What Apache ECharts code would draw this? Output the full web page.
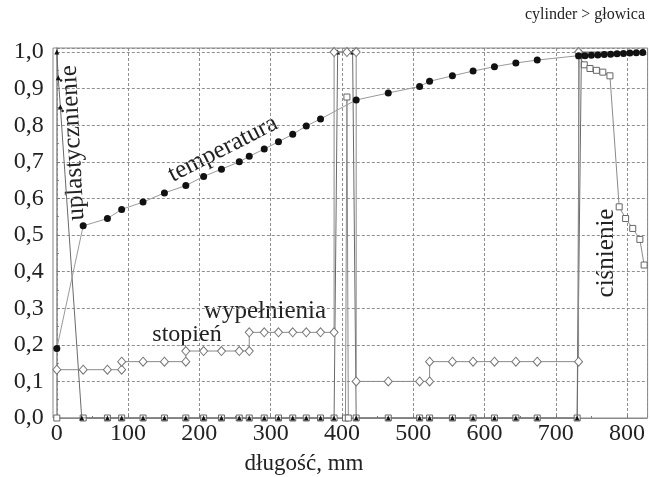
<!DOCTYPE html>
<html><head><meta charset="utf-8">
<script src="https://cdn.jsdelivr.net/npm/echarts@6/dist/echarts.min.js"></script>
<style>html,body{margin:0;padding:0;background:#fff}#c{width:650px;height:477px}</style>
</head><body><div id="c"></div>
<script>
// ---- data (x in mm, y normalised 0..1) ----
const stopienX = [0, 37, 71, 91, 91, 121, 151, 181, 181, 206, 231, 256, 270, 270, 291, 311, 331, 350, 370, 389, 389, 407, 420, 420, 465, 509, 523, 523, 555, 584, 614, 644, 674, 732, 732];
const stopienY = [0.132, 0.132, 0.132, 0.132, 0.154, 0.154, 0.154, 0.154, 0.183, 0.183, 0.183, 0.183, 0.183, 0.234, 0.234, 0.234, 0.234, 0.234, 0.234, 0.234, 1.0, 1.0, 1.0, 0.10, 0.10, 0.10, 0.10, 0.154, 0.154, 0.154, 0.154, 0.154, 0.154, 0.154, 1.0];

const tempX = [0, 37, 71, 91, 121, 151, 181, 206, 231, 256, 270, 291, 311, 331, 350, 370, 420, 465, 509, 523, 555, 584, 614, 644, 674, 732, 741, 750, 759, 768, 777, 786, 795, 804, 813, 822];
const tempY = [0.19, 0.525, 0.545, 0.57, 0.59, 0.615, 0.635, 0.66, 0.68, 0.70, 0.715, 0.735, 0.755, 0.775, 0.798, 0.817, 0.869, 0.888, 0.906, 0.92, 0.935, 0.948, 0.96, 0.97, 0.978, 0.99, 0.99, 0.991, 0.992, 0.993, 0.994, 0.995, 0.996, 0.997, 0.998, 0.999];

const cisnX = [0, 37, 71, 91, 121, 151, 181, 206, 231, 256, 270, 291, 311, 331, 350, 370, 389, 405, 407, 409, 420, 465, 509, 523, 555, 584, 614, 644, 674, 730, 733, 740, 748, 757, 766, 776, 789, 798, 808, 818, 824];
const cisnY = [0, 0, 0, 0, 0, 0, 0, 0, 0, 0, 0, 0, 0, 0, 0, 0, 0, 0, 0.877, 0, 0, 0, 0, 0, 0, 0, 0, 0, 0, 0, 0.99, 0.965, 0.955, 0.95, 0.945, 0.935, 0.577, 0.545, 0.518, 0.488, 0.418];

const uplX = [0, 2, 5, 35, 71, 91, 121, 151, 181, 206, 231, 256, 270, 291, 311, 331, 350, 370, 389, 394, 415, 420, 465, 509, 523, 555, 584, 614, 644, 674, 730, 736, 824];
const uplY = [1.0, 0.93, 0.85, 0, 0, 0, 0, 0, 0, 0, 0, 0, 0, 0, 0, 0, 0, 0, 0, 1.0, 1.0, 0, 0, 0, 0, 0, 0, 0, 0, 0, 0, 1.0, 1.0];

const xTickLabels = [0, 100, 200, 300, 400, 500, 600, 700, 800];
const yTickLabels = [0.0, 0.1, 0.2, 0.3, 0.4, 0.5, 0.6, 0.7, 0.8, 0.9, 1.0];
const labels = {
  title: 'cylinder > głowica',
  xName: 'długość, mm',
  upl: 'uplastycznienie',
  temp: 'temperatura',
  stop1: 'stopień',
  stop2: 'wypełnienia',
  cisn: 'ciśnienie'
};

const pair = (xs, ys) => xs.map((x, i) => [x, ys[i]]);
const FONT = '"Liberation Serif", "Times New Roman", serif';
const TXT = '#222';

const chart = echarts.init(document.getElementById('c'), null, {renderer: 'canvas'});
chart.setOption({
  animation: false,
  backgroundColor: '#fff',
  grid: {left: 56.8, right: 2.4, top: 48, bottom: 59},
  xAxis: {
    type: 'value', min: 0, max: 828, interval: 100,
    axisLine: {show: true, lineStyle: {color: '#8a8a8a', width: 1}},
    axisTick: {show: true, inside: true, length: 3, lineStyle: {color: '#777'}},
    minorTick: {show: true, splitNumber: 2, length: 2, lineStyle: {color: '#777'}},
    axisLabel: {
      fontFamily: FONT, fontSize: 24, color: TXT, margin: 4,
      formatter: v => (xTickLabels.indexOf(Math.round(v)) >= 0 && Math.abs(v - Math.round(v)) < 1e-6) ? String(Math.round(v)) : ''
    },
    splitLine: {show: true, lineStyle: {color: '#8f8f8f', type: [3, 2], width: 1}}
  },
  yAxis: {
    type: 'value', min: 0, max: 1.011, interval: 0.1, offset: 4,
    axisLine: {show: true, lineStyle: {color: '#8a8a8a', width: 1.5}},
    axisTick: {show: true, inside: true, length: 3, lineStyle: {color: '#777'}},
    minorTick: {show: true, splitNumber: 2, length: 2, lineStyle: {color: '#777'}},
    axisLabel: {
      fontFamily: FONT, fontSize: 24, color: TXT, margin: 9,
      formatter: v => {
        const hit = yTickLabels.find(t => Math.abs(t - v) < 1e-6);
        return hit === undefined ? '' : hit.toFixed(1).replace('.', ',');
      }
    },
    splitLine: {show: true, lineStyle: {color: '#8f8f8f', type: [3, 2], width: 1}}
  },
  series: [
    {
      name: 'ciśnienie', type: 'line', data: pair(cisnX, cisnY),
      symbol: 'rect', symbolSize: 6,
      lineStyle: {color: '#8a8a8a', width: 1},
      itemStyle: {color: '#fff', borderColor: '#666', borderWidth: 1}, z: 2
    },
    {
      name: 'uplastycznienie', type: 'line', data: pair(uplX, uplY),
      symbol: 'triangle', symbolSize: 5,
      lineStyle: {color: '#6a6a6a', width: 1},
      itemStyle: {color: '#111'}, z: 3
    },
    {
      name: 'stopień wypełnienia', type: 'line', data: pair(stopienX, stopienY),
      symbol: 'diamond', symbolSize: [8, 9],
      lineStyle: {color: '#8a8a8a', width: 1},
      itemStyle: {color: '#fff', borderColor: '#777', borderWidth: 1}, z: 4
    },
    {
      name: 'temperatura', type: 'line', data: pair(tempX, tempY),
      symbol: 'circle', symbolSize: 7,
      lineStyle: {color: '#999', width: 1},
      itemStyle: {color: '#111'}, z: 5
    }
  ],
  graphic: [
    {type: 'rect', z: 1, silent: true, shape: {x: 53, y: 48, width: 594.6, height: 370},
      style: {fill: null, stroke: '#8a8a8a', lineWidth: 1}},
    {type: 'text', x: 645, y: 15, style: {text: labels.title, font: '16px ' + FONT, fill: TXT, align: 'right', verticalAlign: 'middle'}},
    {type: 'text', x: 304, y: 464, style: {text: labels.xName, font: '23px ' + FONT, fill: TXT, align: 'center', verticalAlign: 'middle'}},
    {type: 'text', x: 73, y: 143, rotation: Math.PI / 2 + 0.05, style: {text: labels.upl, font: '25px ' + FONT, fill: TXT, align: 'center', verticalAlign: 'middle'}},
    {type: 'text', x: 223, y: 149, rotation: 0.47, style: {text: labels.temp, font: '25px ' + FONT, fill: TXT, align: 'center', verticalAlign: 'middle'}},
    {type: 'text', x: 187, y: 335, style: {text: labels.stop1, font: '24px ' + FONT, fill: TXT, align: 'center', verticalAlign: 'middle'}},
    {type: 'text', x: 265, y: 311, style: {text: labels.stop2, font: '25px ' + FONT, fill: TXT, align: 'center', verticalAlign: 'middle'}},
    {type: 'text', x: 606, y: 253, rotation: Math.PI / 2, style: {text: labels.cisn, font: '25px ' + FONT, fill: TXT, align: 'center', verticalAlign: 'middle'}}
  ]
});
</script>
</body></html>
